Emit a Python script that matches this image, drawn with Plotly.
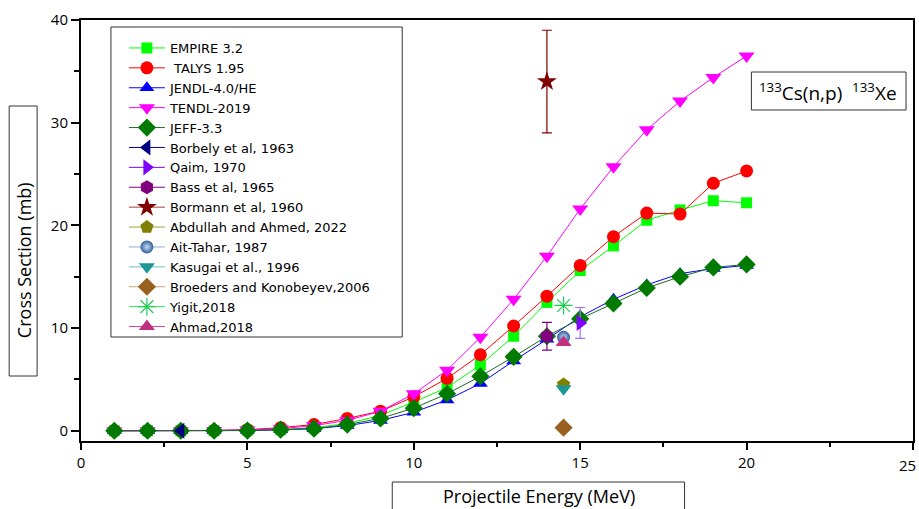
import plotly.graph_objects as go

energy = list(range(1, 21))
empire = [0, 0, 0, 0, 0.05, 0.1, 0.3, 0.7, 1.5, 2.8, 4.2, 6.4, 9.2, 12.5, 15.6, 18.0, 20.5, 21.5, 22.4, 22.2]
talys = [0, 0, 0, 0.02, 0.1, 0.3, 0.6, 1.2, 1.9, 3.3, 5.1, 7.4, 10.2, 13.1, 16.1, 18.9, 21.2, 21.1, 24.1, 25.3]
jendl = [0, 0, 0, 0, 0.02, 0.1, 0.2, 0.5, 1.0, 1.8, 3.0, 4.6, 6.8, 8.9, 11.1, 12.8, 14.2, 15.3, 15.8, 16.1]
tendl = [0, 0, 0, 0.02, 0.1, 0.2, 0.5, 1.0, 1.9, 3.6, 5.9, 9.1, 12.8, 17.0, 21.6, 25.7, 29.3, 32.1, 34.4, 36.5]
jeff = [0, 0, 0, 0, 0.02, 0.1, 0.2, 0.6, 1.2, 2.2, 3.6, 5.3, 7.2, 9.2, 10.9, 12.4, 13.9, 15.0, 15.9, 16.2]

# experimental data: energy, cross section, error
borbely_x, borbely_y = [3], [0.0]
qaim_x, qaim_y, qaim_err = [15], [10.5], [1.5]
bass_x, bass_y, bass_err = [14], [9.2], [1.35]
bormann_x, bormann_y, bormann_err = [14], [34.0], [5.0]
abdullah_x, abdullah_y = [14.5], [4.5]
aittahar_x, aittahar_y = [14.5], [9.1]
kasugai_x, kasugai_y = [14.5], [4.1]
broeders_x, broeders_y = [14.5], [0.3]
yigit_x, yigit_y = [14.5], [12.2]
ahmad_x, ahmad_y = [14.5], [8.6]

x_tickvals = [0, 5, 10, 15, 20, 25]
x_ticktext = ["0", "5", "10", "15", "20", ""]
y_tickvals = [0, 10, 20, 30, 40]

FONT = "Open Sans"
LEGFONT = "DejaVu Sans"
fig = go.Figure()

def evals(name, y, color, symbol, size, lcolor=None):
    fig.add_trace(go.Scatter(
        x=energy, y=y, name=name, mode="lines+markers",
        line=dict(color=lcolor or color, width=1),
        marker=dict(color=color, symbol=symbol, size=size, line=dict(width=0)),
    ))

evals("EMPIRE 3.2", empire, "#00FF00", "square", 11)
evals(" TALYS 1.95", talys, "#FF0000", "circle", 13)
evals("JENDL-4.0/HE", jendl, "#0000FF", "triangle-up", 13)
evals("TENDL-2019", tendl, "#FF00FF", "triangle-down", 14)
evals("JEFF-3.3", jeff, "#007A00", "diamond", 14, "#1E6B1E")

def expt(name, x, y, color, symbol, size, lcolor, err=None, errcolor=None, extra=None):
    m = dict(color=color, symbol=symbol, size=size, line=dict(width=0))
    if extra:
        m.update(extra)
    kw = {}
    if err is not None:
        kw["error_y"] = dict(type="data", array=err, visible=True, color=errcolor or color,
                             thickness=1.2, width=5)
    fig.add_trace(go.Scatter(x=x, y=y, name=name, mode="lines+markers",
                             line=dict(color=lcolor, width=1), marker=m, **kw))

expt("Borbely et al, 1963", borbely_x, borbely_y, "#000080", "triangle-left", 14, "#000080")
expt("Qaim, 1970", qaim_x, qaim_y, "#7F00FF", "triangle-right", 14, "#7F00FF", qaim_err, "#A070FF")
expt("Bass et al, 1965", bass_x, bass_y, "#800080", "hexagon", 14, "#800080", bass_err)
expt("Bormann et al, 1960", bormann_x, bormann_y, "#800000", "star", 15, "#A04040", bormann_err)
expt("Abdullah and Ahmed, 2022", abdullah_x, abdullah_y, "#808000", "pentagon", 14, "#A0A040")
expt("Ait-Tahar, 1987", aittahar_x, aittahar_y, "#2F5F9F", "circle", 13, "#8CA8D0",
     extra=dict(gradient=dict(type="radial", color="#C8DCF0")))
expt("Kasugai et al., 1996", kasugai_x, kasugai_y, "#1E9696", "triangle-down", 14, "#70C0C0")
expt("Broeders and Konobeyev,2006", broeders_x, broeders_y, "#9A6020", "diamond", 14, "#C8A070")
expt("Yigit,2018", yigit_x, yigit_y, "#22CC55", "asterisk-open", 15, "#33DD66",
     extra=dict(line=dict(color="#22CC55", width=1.2)))
expt("Ahmad,2018", ahmad_x, ahmad_y, "#C0307F", "triangle-up", 14, "#D04090")

W, H = 919, 509
L, R, T, B = 81, 915, 20, 441
pw, ph = R - L, B - T
def px(x):
    return (x - L) / pw
def py(y):
    return (B - y) / ph

shapes = [
    dict(type="rect", xref="paper", yref="paper", x0=px(111), x1=px(403), y0=py(337), y1=py(27),
         line=dict(color="#333333", width=1), fillcolor="white", layer="above"),
    dict(type="rect", xref="paper", yref="paper", x0=px(9), x1=px(37), y0=py(376), y1=py(106),
         line=dict(color="#333333", width=1), fillcolor="rgba(0,0,0,0)"),
    dict(type="rect", xref="paper", yref="paper", x0=px(393), x1=px(686), y0=py(520), y1=py(482),
         line=dict(color="#333333", width=1), fillcolor="rgba(0,0,0,0)"),
    dict(type="rect", xref="paper", yref="paper", x0=px(753), x1=px(908), y0=py(110), y1=py(72),
         line=dict(color="#333333", width=1), fillcolor="white", layer="above"),
]

annotations = [
    dict(text="Cross Section (mb)", xref="paper", yref="paper", x=px(24), y=py(260),
         textangle=-90, showarrow=False, font=dict(family=FONT, size=18, color="black"),
         xanchor="center", yanchor="middle"),
    dict(text="Projectile Energy (MeV)", xref="paper", yref="paper", x=px(540), y=py(496),
         showarrow=False, font=dict(family=FONT, size=18, color="black"),
         xanchor="center", yanchor="middle"),
    dict(text="<sup>133</sup>Cs(n,p)  <sup>133</sup>Xe", xref="paper", yref="paper",
         x=px(830), y=py(92), showarrow=False, font=dict(family=FONT, size=19, color="black"),
         xanchor="center", yanchor="middle"),
    dict(text="25", xref="paper", yref="paper", x=px(909), y=py(465), showarrow=False,
         font=dict(family=FONT, size=15, color="black"), xanchor="center", yanchor="middle"),
]

fig.update_layout(
    width=W, height=H,
    margin=dict(l=L, r=W - R, t=T, b=H - B),
    paper_bgcolor="white", plot_bgcolor="white",
    font=dict(family=FONT, color="black"),
    shapes=shapes, annotations=annotations,
    legend=dict(x=px(124), y=py(33), xanchor="left", yanchor="top",
                bgcolor="rgba(0,0,0,0)", borderwidth=0,
                font=dict(family=LEGFONT, size=13, color="black"),
                itemwidth=36, tracegroupgap=0),
    xaxis=dict(range=[0, 25], tickvals=x_tickvals, ticktext=x_ticktext, ticks="outside", ticklen=7,
               tickwidth=1.5, tickcolor="black", showline=True, linecolor="black", linewidth=2,
               mirror=True, showgrid=False, zeroline=False,
               tickfont=dict(family=FONT, size=15, color="black"),
               minor=dict(tickvals=[2.5, 7.5, 12.5, 17.5, 22.5], ticks="outside", ticklen=4,
                          tickcolor="black", tickwidth=1.5)),
    yaxis=dict(range=[-1, 40], tickvals=y_tickvals, ticks="outside", ticklen=8,
               tickwidth=1.5, tickcolor="black", showline=True, linecolor="black", linewidth=2,
               mirror=True, showgrid=False, zeroline=False,
               tickfont=dict(family=FONT, size=15, color="black"),
               minor=dict(tickvals=[5, 15, 25, 35], ticks="outside", ticklen=5,
                          tickcolor="black", tickwidth=1.5)),
)

fig.write_html("out.html", config={"displayModeBar": False},
               post_script="document.body.style.margin='0';document.body.style.overflow='hidden';")
